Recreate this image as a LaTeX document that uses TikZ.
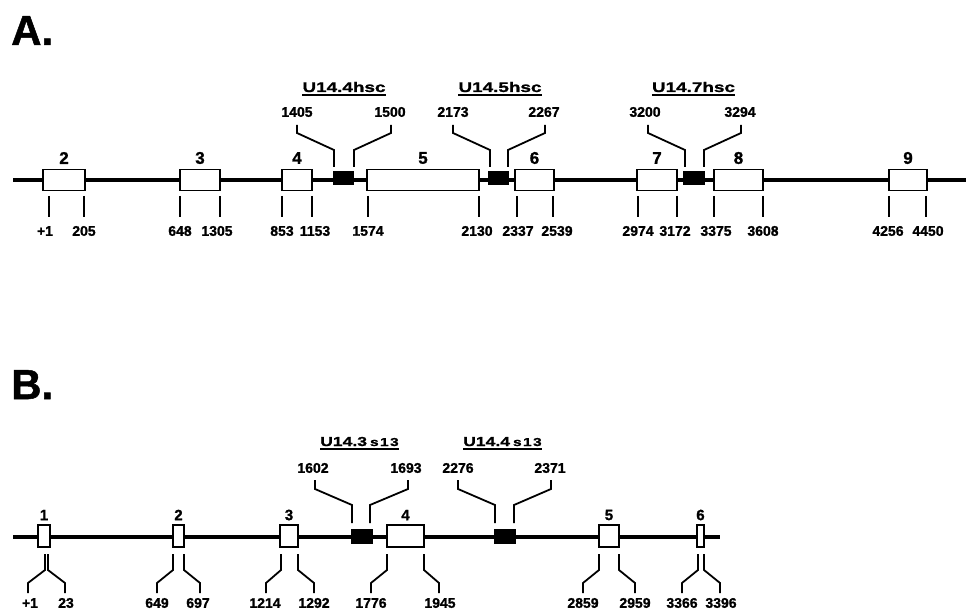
\documentclass[tikz,border=0pt]{standalone}
\usepackage{fontspec}
\setmainfont[BoldFeatures={FakeBold=1.2}]{Liberation Sans}
\newfontfamily\widefont[FakeStretch=1.35,BoldFeatures={FakeBold=1.2}]{Liberation Sans}
\begin{document}
\begin{tikzpicture}[x=1pt,y=-1pt,
  mainline/.style={line width=3.5pt},
  exon/.style={draw, fill=white, line width=1.8pt, minimum height=21pt, inner sep=0pt},
  exonb/.style={exon, minimum height=22pt},
  hsc/.style={draw=black, fill=black, line width=0.6pt, minimum width=20pt, minimum height=13pt, inner sep=0pt},
  conn/.style={line width=1.8pt, line join=miter},
  uline/.style={line width=1.8pt},
  num/.style={font=\bfseries\fontsize{14}{14}\selectfont, inner sep=0pt},
  exnum/.style={font=\bfseries\fontsize{17}{17}\selectfont, inner sep=0pt},
  exnumb/.style={font=\bfseries\fontsize{15}{15}\selectfont, inner sep=0pt},
  panel/.style={font=\bfseries\fontsize{42}{42}\selectfont, inner sep=0pt, anchor=base west},
  hdr/.style={font=\widefont\bfseries\fontsize{14}{14}\selectfont, inner sep=0pt, anchor=base},
  hdrb/.style={font=\widefont\bfseries\fontsize{13}{13}\selectfont, inner sep=0pt, anchor=base west}
]
\useasboundingbox (0,0) rectangle (966,609);

% ---------------- Panel A ----------------
\node[panel] (pA) at (11,45) {A.};
\coordinate (a0) at (13,180);
\coordinate (a1) at (966,180);
\draw[mainline] (a0) -- (a1);

\newcommand\exA[4]{%
  \node[exon, minimum width=#3pt] (#1) at (#2,180) {};
  \node[exnum] (#1lab) at (#2,158) {#4};}
\exA{ea2}{64}{42}{2}
\exA{ea3}{200}{40}{3}
\exA{ea4}{297}{30}{4}
\exA{ea5}{423}{112}{5}
\exA{ea6}{534.5}{39}{6}
\exA{ea7}{657}{40}{7}
\exA{ea8}{738.5}{49}{8}
\exA{ea9}{908}{38}{9}

\node[hsc] (ha1) at (343.5,178) {};
\node[hsc] (ha2) at (498.5,178) {};
\node[hsc, minimum width=21pt] (ha3) at (694,178) {};

% lower ticks A
\newcommand\tkA[4]{%
  \node[num] (#1) at (#4,231) {#2};
  \draw[conn] (#3,196) -- (#3,217);}
\tkA{la1}{+1}{49}{45}
\tkA{la2}{205}{84}{84}
\tkA{la3}{648}{180}{180}
\tkA{la4}{1305}{220}{217}
\tkA{la5}{853}{282}{282}
\tkA{la6}{1153}{312}{315}
\tkA{la7}{1574}{368}{368}
\tkA{la8}{2130}{479}{477}
\tkA{la9}{2337}{517}{518}
\tkA{la10}{2539}{553}{557}
\tkA{la11}{2974}{638}{638}
\tkA{la12}{3172}{677}{675}
\tkA{la13}{3375}{714}{716}
\tkA{la14}{3608}{763}{763}
\tkA{la15}{4256}{889}{888}
\tkA{la16}{4450}{926}{928}

% upper connectors A
\newcommand\upA[5]{%
  \node[num] (#1) at (#3,112) {#2};
  \draw[conn] (#4,125) -- (#4,133) -- (#5,150) -- (#5,167);}
\upA{ua1}{1405}{297}{297}{334}
\upA{ua2}{1500}{390}{391}{354}
\upA{ua3}{2173}{453}{453}{490}
\upA{ua4}{2267}{544}{545}{508}
\upA{ua5}{3200}{645}{648}{685}
\upA{ua6}{3294}{740}{741}{704}

% headers A
\node[hdr] (hA1) at (344,92) {U14.4hsc};
\node[hdr] (hA2) at (500,92) {U14.5hsc};
\node[hdr] (hA3) at (693.5,92) {U14.7hsc};
\foreach \h in {hA1,hA2,hA3}
  \draw[uline] ([yshift=-3pt]\h.base west) -- ([yshift=-3pt]\h.base east);

% ---------------- Panel B ----------------
\node[panel] (pB) at (11,399) {B.};
\coordinate (b0) at (13,537);
\coordinate (b1) at (720,537);
\draw[mainline] (b0) -- (b1);

\newcommand\exB[4]{%
  \node[exonb, minimum width=#3pt] (#1) at (#2,536) {};
  \node[exnumb] (#1lab) at (#2,515) {#4};}
\exB{eb1}{44}{12}{1}
\exB{eb2}{178.5}{11}{2}
\exB{eb3}{289}{18}{3}
\exB{eb4}{405.5}{37}{4}
\exB{eb5}{609}{20}{5}
\exB{eb6}{700.5}{7}{6}

\node[hsc, minimum width=21pt, minimum height=14pt] (hb1) at (361.5,536) {};
\node[hsc, minimum width=21pt, minimum height=14pt] (hb2) at (504.5,536) {};

% lower connectors B
\newcommand\tkB[5]{%
  \node[num] (#1) at (#5,603) {#2};
  \draw[conn] (#3,554) -- (#3,570) -- (#4,583) -- (#4,593);}
\tkB{lb1}{+1}{45}{28}{30}
\tkB{lb2}{23}{48}{65}{66}
\tkB{lb3}{649}{173}{157}{157}
\tkB{lb4}{697}{184}{200}{198}
\tkB{lb5}{1214}{281}{266}{265}
\tkB{lb6}{1292}{298}{314}{314}
\tkB{lb7}{1776}{387}{371}{371}
\tkB{lb8}{1945}{424}{439}{440}
\tkB{lb9}{2859}{599}{583}{583}
\tkB{lb10}{2959}{619}{635}{635}
\tkB{lb11}{3366}{698}{682}{682}
\tkB{lb12}{3396}{704}{720}{721}

% upper connectors B
\newcommand\upB[5]{%
  \node[num] (#1) at (#3,468) {#2};
  \draw[conn] (#4,480) -- (#4,489) -- (#5,505) -- (#5,523);}
\upB{ub1}{1602}{313}{315}{352}
\upB{ub2}{1693}{406}{408}{370}
\upB{ub3}{2276}{458}{458}{495}
\upB{ub4}{2371}{550}{551}{514}

% headers B
\node[hdrb] (hB1) at (320,446) {U14.3\hspace{3pt}{\fontsize{11.5}{11.5}\selectfont\addfontfeature{LetterSpace=12}s13}};
\node[hdrb] (hB2) at (463,446) {U14.4\hspace{3pt}{\fontsize{11.5}{11.5}\selectfont\addfontfeature{LetterSpace=12}s13}};
\foreach \h in {hB1,hB2}
  \draw[uline] ([yshift=-3pt]\h.base west) -- ([yshift=-3pt]\h.base east);
\end{tikzpicture}
\end{document}
